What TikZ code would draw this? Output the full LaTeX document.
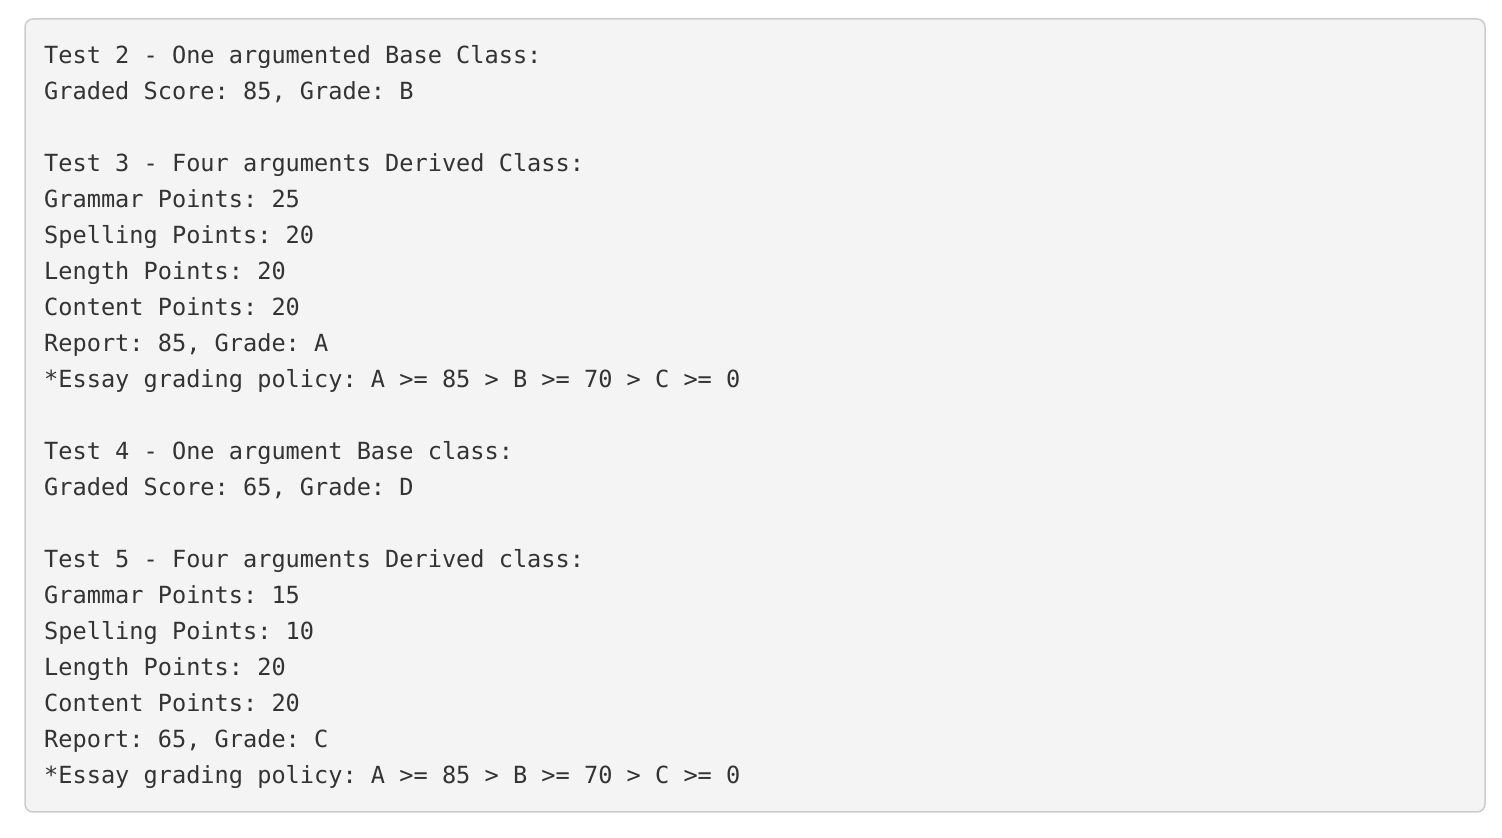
\documentclass[tikz,border=0pt]{standalone}
\usepackage{fontspec}
\setmonofont{DejaVu Sans Mono}
\definecolor{bgc}{HTML}{F4F4F4}
\definecolor{bdc}{HTML}{CCCCCC}
\definecolor{txc}{HTML}{333333}
\begin{document}
\begin{tikzpicture}[x=1pt,y=1pt,
  codeline/.style={anchor=base west,inner sep=0pt,text=txc,font=\ttfamily\fontsize{23.6pt}{36pt}\selectfont}]
\useasboundingbox (0,0) rectangle (1502,838);
\draw[bdc,fill=bgc,line width=1.5pt,rounded corners=8pt] (25,26) rectangle (1485,819) node[pos=0,inner sep=0pt] (box) {};
\foreach \i/\t in {0/{Test 2 - One argumented Base Class:},
 1/{Graded Score: 85, Grade: B},
 3/{Test 3 - Four arguments Derived Class:},
 4/{Grammar Points: 25},
 5/{Spelling Points: 20},
 6/{Length Points: 20},
 7/{Content Points: 20},
 8/{Report: 85, Grade: A},
 9/{*Essay grading policy: A >= 85 > B >= 70 > C >= 0},
 11/{Test 4 - One argument Base class:},
 12/{Graded Score: 65, Grade: D},
 14/{Test 5 - Four arguments Derived class:},
 15/{Grammar Points: 15},
 16/{Spelling Points: 10},
 17/{Length Points: 20},
 18/{Content Points: 20},
 19/{Report: 65, Grade: C},
 20/{*Essay grading policy: A >= 85 > B >= 70 > C >= 0}}
  \node[codeline] (l\i) at (44,{838-64-36*\i}) {\t};
\end{tikzpicture}
\end{document}
